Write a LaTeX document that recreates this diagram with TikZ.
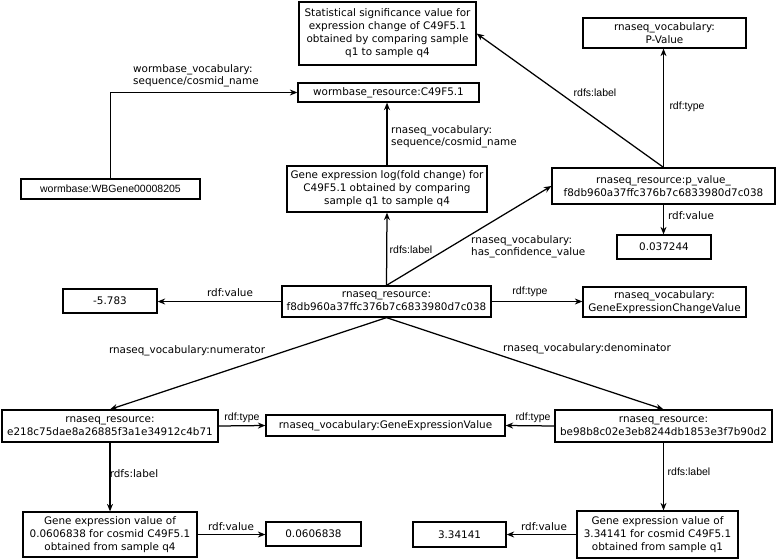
\documentclass[tikz,border=0pt]{standalone}
\usepackage{fontspec}
\setmainfont{DejaVu Sans}
\newfontfamily\arialf{Liberation Sans}
\usetikzlibrary{arrows.meta}
\begin{document}
\begin{tikzpicture}[x=1pt,y=-1pt,
 box/.style={draw, line width=1.25pt, inner sep=0pt, align=center, font=\fontsize{10.4}{13}\selectfont},
 lbl/.style={inner sep=0pt, align=left, font=\fontsize{10.4}{12.5}\selectfont},
 dlbl/.style={inner sep=0pt, font=\fontsize{10.4}{12.5}\selectfont},
 albl/.style={inner sep=0pt, font=\arialf\fontsize{10.5}{12}\selectfont},
 arr/.style={-{Stealth[length=7.5pt,width=6pt]}, line width=1.25pt}]
\path[use as bounding box] (0,0) rectangle (778,559);

% boxes
\node[box, minimum width=177pt, minimum height=63pt] (stat) at (387.5,33.5) {Statistical significance value for\\expression change of C49F5.1\\obtained by comparing sample\\q1 to sample q4};
\node[box, minimum width=163pt, minimum height=30pt] (pv) at (664.5,33) {rnaseq\_vocabulary:\\P-Value};
\node[box, minimum width=181pt, minimum height=19pt] (wres) at (388.5,92.5) {wormbase\_resource:C49F5.1};
\node[box, minimum width=179pt, minimum height=20pt, font=\arialf\fontsize{10.5}{12}\selectfont] (wbg) at (110.5,189) {wormbase:WBGene00008205};
\node[box, minimum width=200pt, minimum height=46pt] (glog) at (387,189) {Gene expression log(fold change) for\\C49F5.1 obtained by comparing\\sample q1 to sample q4};
\node[box, minimum width=223pt, minimum height=36pt] (pval) at (663.5,186) {rnaseq\_resource:p\_value\_\\f8db960a37ffc376b7c6833980d7c038};
\node[box, minimum width=94pt, minimum height=24pt] (v037) at (664,247) {0.037244};
\node[box, minimum width=94pt, minimum height=24pt] (neg) at (110,301) {-5.783};
\node[box, minimum width=209pt, minimum height=31pt] (central) at (386.5,301.5) {rnaseq\_resource:\\f8db960a37ffc376b7c6833980d7c038};
\node[box, minimum width=163pt, minimum height=30pt] (gecv) at (664.5,302) {rnaseq\_vocabulary:\\GeneExpressionChangeValue};
\node[box, minimum width=216pt, minimum height=32pt] (e218) at (110,426) {rnaseq\_resource:\\e218c75dae8a26885f3a1e34912c4b71};
\node[box, minimum width=239pt, minimum height=21pt] (gev) at (385.5,425.5) {rnaseq\_vocabulary:GeneExpressionValue};
\node[box, minimum width=217pt, minimum height=32pt] (be98) at (663.5,426) {rnaseq\_resource:\\be98b8c02e3eb8244db1853e3f7b90d2};
\node[box, minimum width=174pt, minimum height=45pt] (gq4) at (110,534.5) {Gene expression value of\\0.0606838 for cosmid C49F5.1\\obtained from sample q4};
\node[box, minimum width=95pt, minimum height=24pt] (v06) at (313.5,534) {0.0606838};
\node[box, minimum width=161pt, minimum height=47pt] (gq1) at (657.5,534.5) {Gene expression value of\\3.34141 for cosmid C49F5.1\\obtained from sample q1};
\node[box, minimum width=93pt, minimum height=25pt] (v33) at (459.5,534.5) {3.34141};

% connectors
\draw[arr] (wbg.north) |- (wres.west);
\draw[arr] (glog.north) -- (glog.north |- wres.south);
\draw[arr] (central.north) -- (glog.south);
\draw[arr] (pval.north) -- (pval.north |- pv.south);
\draw[arr] (pval.north) -- (stat.east);
\draw[arr] (pval.south) -- (pval.south |- v037.north);
\draw[arr] (central.north) -- (pval.west);
\draw[arr] (central.west) -- (central.west -| neg.east);
\draw[arr] (central.east) -- (central.east -| gecv.west);
\draw[arr] (central.south) -- (e218.north);
\draw[arr] (central.south) -- (be98.north);
\draw[arr] (e218.east) -- (gev.west);
\draw[arr] (be98.west) -- (gev.east);
\draw[arr] (e218.south) -- (gq4.north);
\draw[arr] (be98.south) -- (be98.south |- gq1.north);
\draw[arr] (gq4.east) -- (gq4.east -| v06.west);
\draw[arr] (gq1.west) -- (gq1.west -| v33.east);

% labels
\node[lbl, anchor=west] (l1) at (133,76) {wormbase\_vocabulary:\\sequence/cosmid\_name};
\node[lbl, anchor=west] (l2) at (391,137) {rnaseq\_vocabulary:\\sequence/cosmid\_name};
\node[albl] (l3) at (595,93) {rdfs:label};
\node[albl] (l4) at (687,107) {rdf:type};
\node[dlbl] (l5) at (691,216) {rdf:value};
\node[lbl, anchor=west] (l6) at (471,247) {rnaseq\_vocabulary:\\has\_confidence\_value};
\node[albl] (l7) at (411,250) {rdfs:label};
\node[dlbl] (l8) at (230,293) {rdf:value};
\node[albl] (l9) at (530,292) {rdf:type};
\node[dlbl] (l10) at (187,351) {rnaseq\_vocabulary:numerator};
\node[dlbl] (l11) at (587,349) {rnaseq\_vocabulary:denominator};
\node[albl] (l12) at (242,418) {rdf:type};
\node[albl] (l13) at (533,418) {rdf:type};
\node[dlbl] (l14) at (134,474) {rdfs:label};
\node[albl] (l15) at (689,472) {rdfs:label};
\node[dlbl] (l16) at (231,527) {rdf:value};
\node[dlbl] (l17) at (544,527) {rdf:value};
\end{tikzpicture}
\end{document}
